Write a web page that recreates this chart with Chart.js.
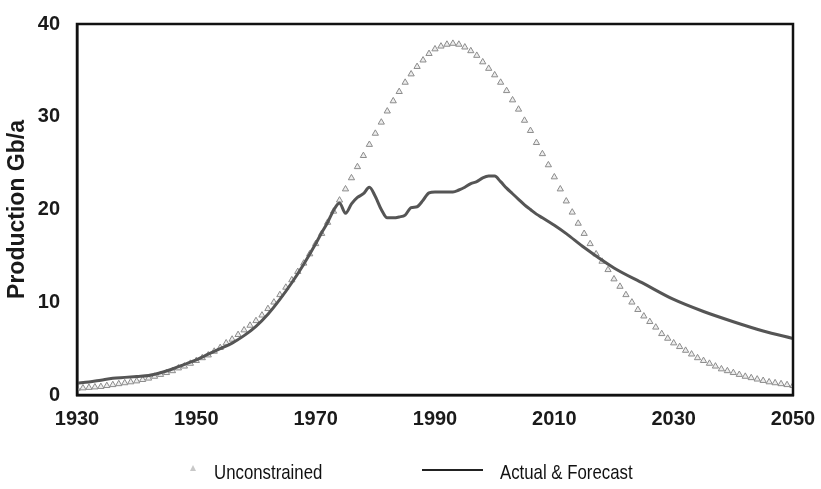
<!DOCTYPE html>
<html>
<head>
<meta charset="utf-8">
<script src="https://cdn.jsdelivr.net/npm/chart.js@4.4.1/dist/chart.umd.min.js"></script>
<style>
  html, body { margin: 0; padding: 0; background: #fff; }
  #wrap { position: relative; width: 821px; height: 489px; }
  canvas { position: absolute; left: 0; top: 0; }
  .leg { position: absolute; font-family: "Liberation Sans", Arial, sans-serif; font-size: 21px; color: #111; line-height: 1; white-space: nowrap; transform: scaleX(0.8); transform-origin: 0 0; }
  .tri { position: absolute; width: 0; height: 0; border-left: 3px solid transparent; border-right: 3px solid transparent; border-bottom: 6px solid #c8c8c8; }
  .lin { position: absolute; height: 2px; background: #222; }
</style>
</head>
<body>
<div id="wrap">
  <canvas id="c" width="821" height="489"></canvas>
  <div class="tri" style="left:190px; top:465px;"></div>
  <div class="leg" id="l1" style="left:214px; top:461px;">Unconstrained</div>
  <div class="lin" style="left:422px; top:469px; width:61px;"></div>
  <div class="leg" id="l2" style="left:500px; top:461px;">Actual &amp; Forecast</div>
</div>
<script>
// ---- data ----
const unconstrainedYears = [];
for (let y = 1930; y <= 2050; y++) unconstrainedYears.push(y);
const unconstrainedValues = [
  0.7, 0.75, 0.8, 0.85, 0.9, 1.0, 1.1, 1.2, 1.3, 1.4,          // 1930-1939
  1.5, 1.65, 1.8, 2.0, 2.2, 2.4, 2.6, 2.9, 3.1, 3.4,           // 1940-1949
  3.7, 4.0, 4.3, 4.7, 5.1, 5.6, 6.0, 6.5, 7.0, 7.5,            // 1950-1959
  8.0, 8.6, 9.3, 10.0, 10.8, 11.6, 12.4, 13.3, 14.2, 15.2,     // 1960-1969
  16.3, 17.4, 18.6, 19.8, 21.0, 22.2, 23.4, 24.6, 25.8, 27.0,  // 1970-1979
  28.2, 29.4, 30.6, 31.7, 32.7, 33.7, 34.6, 35.4, 36.1, 36.8,  // 1980-1989
  37.3, 37.6, 37.8, 37.9, 37.8, 37.5, 37.1, 36.6, 35.9, 35.2,  // 1990-1999
  34.5, 33.7, 32.8, 31.8, 30.8, 29.6, 28.5, 27.2, 26.0, 24.8,  // 2000-2009
  23.5, 22.2, 20.9, 19.7, 18.5, 17.4, 16.3, 15.2, 14.4, 13.5,  // 2010-2019
  12.5, 11.7, 10.8, 10.0, 9.2, 8.5, 7.9, 7.3, 6.6, 6.1,        // 2020-2029
  5.6, 5.2, 4.8, 4.4, 4.0, 3.7, 3.4, 3.1, 2.8, 2.6,            // 2030-2039
  2.4, 2.2, 2.0, 1.85, 1.7, 1.55, 1.4, 1.3, 1.2, 1.1,          // 2040-2049
  1.0                                                          // 2050
];

const actualYears = [
  1930, 1932, 1934, 1936, 1938, 1940, 1942, 1944, 1946, 1948,
  1950, 1952, 1954, 1956, 1958, 1960, 1962, 1964, 1966, 1968,
  1970, 1971, 1972, 1973, 1974, 1975, 1976, 1977, 1978, 1979,
  1980, 1981, 1982, 1983, 1984, 1985, 1986, 1987, 1988, 1989,
  1990, 1991, 1992, 1993, 1994, 1995, 1996, 1997, 1998, 1999,
  2000, 2001, 2002, 2003, 2004, 2005, 2006, 2007, 2008, 2009,
  2010, 2012, 2015, 2020, 2025, 2030, 2035, 2040, 2045, 2050
];
const actualValues = [
  1.3, 1.4, 1.6, 1.8, 1.9, 2.0, 2.1, 2.4, 2.8, 3.3,
  3.8, 4.4, 5.0, 5.6, 6.4, 7.4, 8.7, 10.3, 12.1, 14.1,
  16.3, 17.5, 18.6, 19.9, 20.7, 19.6, 20.6, 21.3, 21.7, 22.4,
  21.4, 20.0, 19.1, 19.1, 19.2, 19.4, 20.2, 20.3, 21.0, 21.8,
  21.9, 21.9, 21.9, 21.9, 22.1, 22.4, 22.8, 23.0, 23.4, 23.6,
  23.6, 23.0, 22.3, 21.7, 21.1, 20.5, 20.0, 19.5, 19.1, 18.7,
  18.3, 17.4, 15.9, 13.7, 12.0, 10.3, 9.0, 7.9, 6.9, 6.1
];

const xTickLabels = ['1930', '1950', '1970', '1990', '2010', '2030', '2050'];
const yTickLabels = ['0', '10', '20', '30', '40'];

// ---- chart ----
const frame = {
  id: 'frame',
  afterDatasetsDraw(chart) {
    const a = chart.chartArea, ctx = chart.ctx;
    ctx.save();
    ctx.strokeStyle = '#111';
    ctx.lineWidth = 2.5;
    ctx.strokeRect(a.left, a.top, a.right - a.left, a.bottom - a.top);
    ctx.restore();
  }
};

const tickFont = { family: '"Liberation Sans", Arial, sans-serif', size: 20, weight: 'bold' };

new Chart(document.getElementById('c'), {
  type: 'scatter',
  data: {
    datasets: [
      {
        label: 'Actual & Forecast',
        data: actualYears.map((x, i) => ({ x, y: actualValues[i] })),
        showLine: true,
        borderColor: '#555555',
        borderWidth: 3,
        pointRadius: 0,
        cubicInterpolationMode: 'monotone',
        order: 0
      },
      {
        label: 'Unconstrained',
        data: unconstrainedYears.map((x, i) => ({ x, y: unconstrainedValues[i] })),
        showLine: false,
        pointStyle: 'triangle',
        pointRadius: 3.6,
        borderWidth: 1,
        borderColor: '#8c8c8c',
        backgroundColor: 'rgba(225,225,225,0.6)',
        order: 1
      }
    ]
  },
  options: {
    responsive: false,
    animation: false,
    devicePixelRatio: 1,
    layout: { padding: { top: 24, right: 28, left: 0, bottom: 0 } },
    plugins: { legend: { display: false }, tooltip: { enabled: false } },
    scales: {
      x: {
        type: 'linear',
        min: 1930, max: 2050,
        afterFit(s) { s.height = 94; s.paddingLeft = 0; s.paddingRight = 0; },
        afterBuildTicks(s) { s.ticks = xTickLabels.map(t => ({ value: Number(t) })); },
        grid: { display: false, drawTicks: false },
        border: { display: true, color: '#111', width: 2.5 },
        ticks: {
          padding: 12,
          color: '#1a1a1a',
          font: tickFont,
          maxRotation: 0,
          autoSkip: false,
          callback: (v) => xTickLabels.find(t => Number(t) === v) || ''
        }
      },
      y: {
        type: 'linear',
        min: 0, max: 40,
        afterFit(s) { s.width = 77; s.paddingTop = 0; s.paddingBottom = 0; },
        afterBuildTicks(s) { s.ticks = yTickLabels.map(t => ({ value: Number(t) })); },
        grid: { display: false, drawTicks: false },
        border: { display: true, color: '#111', width: 2.5 },
        ticks: {
          padding: 17,
          color: '#1a1a1a',
          font: tickFont,
          callback: (v) => yTickLabels.find(t => Number(t) === v) || ''
        },
        title: {
          display: true,
          text: 'Production Gb/a',
          color: '#1a1a1a',
          font: { family: '"Liberation Sans", Arial, sans-serif', size: 23, weight: 'bold' },
          padding: { top: 4, bottom: 0 }
        }
      }
    }
  },
  plugins: [frame]
});
</script>
</body>
</html>
